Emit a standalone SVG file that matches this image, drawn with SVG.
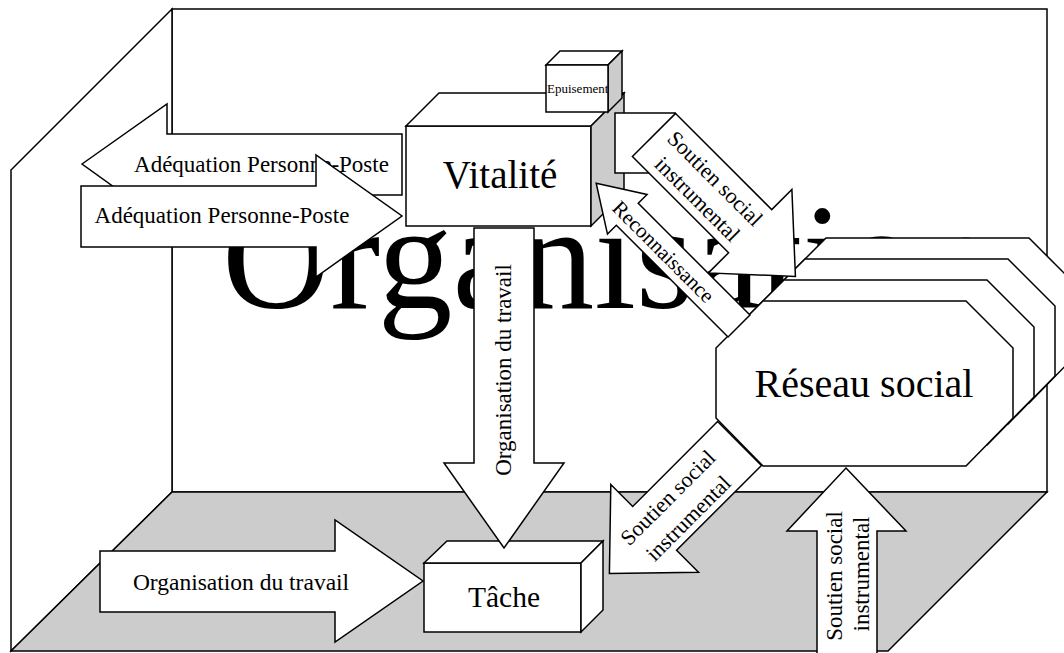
<svg xmlns="http://www.w3.org/2000/svg" width="1064" height="653" viewBox="0 0 1064 653">
  <style>
    .ln { stroke: #000; stroke-width: 1.5; stroke-linejoin: miter; }
    .wh { fill: #fff; }
    .gr { fill: #ccc; }
    .t { font-family: "Liberation Serif", "Times New Roman", serif; fill: #000; }
  </style>
  <defs>
    <polygon id="octa" points="763,301 966,301 1013,348 1013,418 966,466 763,466 716,418 716,348"/>
  </defs>

  <!-- room: back wall, left wall, floor -->
  <g id="room">
    <rect x="0" y="0" width="1064" height="653" fill="#fff"/>
    <rect class="ln wh" x="172" y="9" width="875" height="483"/>
    <polygon class="ln wh" points="172,9 11,170 11,651 172,492"/>
    <polygon class="ln gr" points="172,492 1047,492 888,651 11,651"/>
    <text class="t" x="222" y="308" font-size="150">Organisation</text>
  </g>

  <g id="connectors">
    <!-- Adéquation Personne-Poste, pointing left -->
    <g id="adequation-out">
      <polygon class="ln wh" points="82,164 167,104 167,134 402,134 402,195 167,195 167,225"/>
      <text class="t" x="261.5" y="172" font-size="23" text-anchor="middle">Adéquation Personne-Poste</text>
    </g>
    <!-- Adéquation Personne-Poste, pointing right -->
    <g id="adequation-in">
      <polygon class="ln wh" points="81,186 316,186 316,155 402,216 316,277 316,247 81,247"/>
      <text class="t" x="222" y="223" font-size="23" text-anchor="middle">Adéquation Personne-Poste</text>
    </g>
  </g>

  <g id="vitalite">
    <rect class="ln wh" x="406" y="126" width="185" height="100"/>
    <polygon class="ln wh" points="406,126 439,93 624,93 591,126"/>
    <polygon class="ln gr" points="591,126 624,93 624,193 591,226"/>
    <text class="t" x="500" y="188" font-size="39" text-anchor="middle">Vitalité</text>
  </g>

  <g id="epuisement">
    <polygon class="ln wh" points="546,65 560,51 622,51 608,65"/>
    <polygon class="ln gr" points="608,65 622,51 622,98 608,112"/>
    <rect class="ln wh" x="546" y="65" width="62" height="47"/>
    <text class="t" x="547" y="93" font-size="13">Epuisement</text>
  </g>

  <g id="tache">
    <rect class="ln wh" x="424" y="563" width="157" height="69"/>
    <polygon class="ln wh" points="424,563 447,541 603,541 581,563"/>
    <polygon class="ln wh" points="581,563 603,541 603,610 581,632"/>
    <text class="t" x="504" y="607" font-size="29.5" text-anchor="middle">Tâche</text>
  </g>

  <g id="connectors-2">
    <!-- Organisation du travail, down into Tâche -->
    <g id="orga-down">
      <polygon class="ln wh" points="474,228 534,228 534,463 564,463 504,548 444,463 474,463"/>
      <text class="t" font-size="23" text-anchor="middle" transform="translate(511,370) rotate(-90)">Organisation du travail</text>
    </g>
    <!-- Organisation du travail, right into Tâche -->
    <g id="orga-right">
      <polygon class="ln wh" points="100,551 335,551 335,520 423,581 335,642 335,612 100,612"/>
      <text class="t" x="241" y="590" font-size="23.5" text-anchor="middle">Organisation du travail</text>
    </g>
    <!-- Soutien social instrumental, from the network down-left -->
    <g id="soutien-down" transform="translate(739.5,443.5) rotate(-45)">
      <polygon class="ln wh" points="0,-31 -120,-31 -120,-62 -184,0 -120,62 -120,31 0,31"/>
      <text class="t" x="-89" y="-5" font-size="22" text-anchor="middle">Soutien social</text>
      <text class="t" x="-89" y="24" font-size="22" text-anchor="middle">instrumental</text>
    </g>
  </g>

  <!-- Réseau social: stacked octagons -->
  <g id="reseau">
    <use href="#octa" class="ln wh" transform="translate(63,-63)"/>
    <use href="#octa" class="ln wh" transform="translate(42,-42)"/>
    <use href="#octa" class="ln wh" transform="translate(21,-21)"/>
    <use href="#octa" class="ln wh"/>
    <text class="t" x="864" y="397" font-size="40" text-anchor="middle">Réseau social</text>
  </g>

  <g id="connectors-3">
    <!-- Soutien social instrumental, up into the network -->
    <g id="soutien-up">
      <polygon class="ln wh" points="846,468 906,531 877,531 877,660 817,660 817,531 787,531"/>
      <text class="t" font-size="23" text-anchor="middle" transform="translate(842,576) rotate(-90)">Soutien social</text>
      <text class="t" font-size="23" text-anchor="middle" transform="translate(869,574) rotate(-90)">instrumental</text>
    </g>
    <!-- Soutien social instrumental, from Vitalité down-right -->
    <g id="soutien-diag">
      <rect class="ln wh" x="615" y="113" width="60" height="60"/>
      <g transform="translate(654,135) rotate(45)">
        <polygon class="ln wh" points="0,-30.5 136,-30.5 136,-59 200,0 136,59 136,30.5 0,30.5"/>
        <text class="t" x="74" y="-5" font-size="22" text-anchor="middle">Soutien social</text>
        <text class="t" x="76" y="22" font-size="22" text-anchor="middle">instrumental</text>
      </g>
    </g>
    <!-- Reconnaissance, back toward Vitalité -->
    <g id="reconnaissance" transform="translate(739,326) rotate(45)">
      <polygon class="ln wh" points="0,-15.5 -158,-15.5 -158,-28 -202,0 -158,28 -158,15.5 0,15.5"/>
      <text class="t" x="-106" y="8" font-size="21" text-anchor="middle">Reconnaissance</text>
    </g>
  </g>
</svg>
